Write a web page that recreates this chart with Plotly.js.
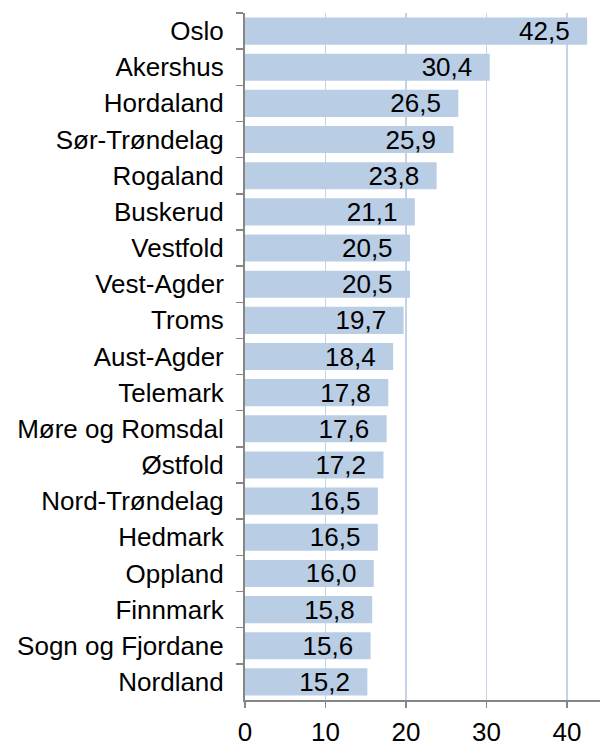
<!DOCTYPE html>
<html>
<head>
<meta charset="utf-8">
<script src="https://cdn.plot.ly/plotly-3.0.1.min.js"></script>
<style>html,body{margin:0;padding:0;background:#fff;}#chart{width:600px;height:742px;}</style>
</head>
<body>
<div id="chart"></div>
<script>
var counties = ["Oslo","Akershus","Hordaland","Sør-Trøndelag","Rogaland","Buskerud","Vestfold","Vest-Agder","Troms","Aust-Agder","Telemark","Møre og Romsdal","Østfold","Nord-Trøndelag","Hedmark","Oppland","Finnmark","Sogn og Fjordane","Nordland"];
var values = [42.5,30.4,26.5,25.9,23.8,21.1,20.5,20.5,19.7,18.4,17.8,17.6,17.2,16.5,16.5,16.0,15.8,15.6,15.2];
var xTicks = [0,10,20,30,40];

var labels = values.map(function(v){ return v.toFixed(1).replace('.', ',') + '\u00a0\u00a0'; });

var font = {family: '"Liberation Sans", Arial, sans-serif', size: 26, color: '#000'};

Plotly.newPlot('chart', [{
  type: 'bar',
  orientation: 'h',
  y: counties,
  x: values,
  text: labels,
  textposition: 'inside',
  insidetextanchor: 'end',
  textangle: 0,
  insidetextfont: font,
  constraintext: 'none',
  marker: {color: '#b9cde5', line: {width: 0}},
  hoverinfo: 'none'
}], {
  width: 600, height: 742,
  margin: {l: 245, r: 0, t: 13, b: 42},
  paper_bgcolor: '#fff', plot_bgcolor: '#fff',
  bargap: 0.25,
  showlegend: false,
  font: font,
  xaxis: {
    range: [0, 44.1],
    tickvals: xTicks,
    ticktext: xTicks.map(String),
    showgrid: true, gridcolor: '#c3d4ea', gridwidth: 1.5,
    zeroline: false,
    showline: true, linecolor: '#868686', linewidth: 2,
    ticks: 'outside', ticklen: 6, tickcolor: '#868686', tickwidth: 1.5,
    tickfont: font,
    ticklabelstandoff: 2,
    fixedrange: true
  },
  yaxis: {
    type: 'category',
    autorange: 'reversed',
    showgrid: false, zeroline: false,
    showline: true, linecolor: '#868686', linewidth: 2,
    ticks: 'outside', ticklen: 7, tickcolor: '#868686', tickwidth: 1.5,
    tickson: 'boundaries',
    tickfont: font,
    ticklabelstandoff: 14,
    fixedrange: true
  }
}, {displayModeBar: false, staticPlot: true});
</script>
</body>
</html>
